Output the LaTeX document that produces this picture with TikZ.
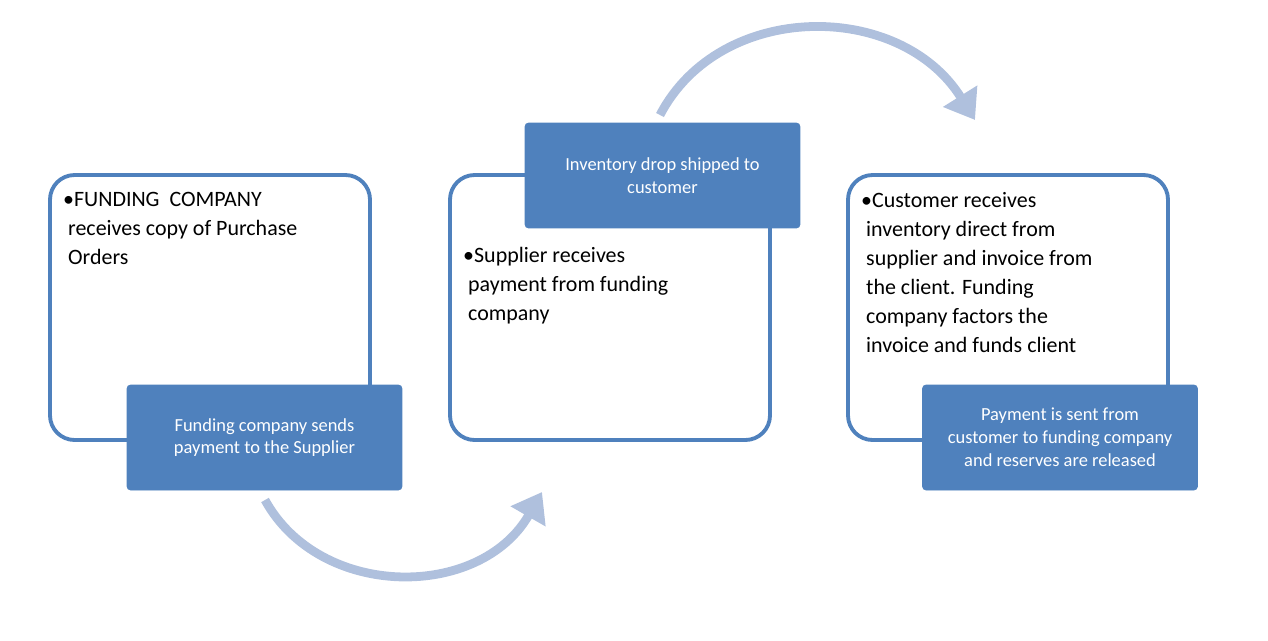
\documentclass[tikz,border=0pt]{standalone}
\usepackage{fontspec}
\setmainfont{Carlito}
\usetikzlibrary{arrows.meta}
\definecolor{bb}{HTML}{4F81BD}
\definecolor{la}{HTML}{AFC0DD}
\begin{document}
\begin{tikzpicture}[x=0.02cm,y=-0.02cm,
 big/.style={draw=bb,line width=2.2pt,rounded corners=14pt,fill=white},
 blue/.style={fill=bb,draw=bb,rounded corners=2pt,text=white,align=center,font=\fontsize{10.5}{13}\selectfont,minimum width=5.5cm,minimum height=2.1cm},
 txt/.style={anchor=north west,align=left,font=\fontsize{12.5}{16.5}\selectfont},
 arc/.style={la,line width=5pt,-{Triangle[length=16pt,width=22pt]}}]
\useasboundingbox (0,0) rectangle (1268,640);
\draw[big] (50,175) rectangle (370,440);
\draw[big] (450,175) rectangle (770,440);
\draw[big] (848,175) rectangle (1168,440);
\node[txt] (t1) at (57,186) {\textbullet FUNDING\ \ COMPANY\\ \ receives copy of Purchase\\ \ Orders};
\node[txt] (t2) at (457,241) {\textbullet Supplier receives\\ \ payment from funding\\ \ company};
\node[txt] (t3) at (855,186) {\textbullet Customer receives\\ \ inventory direct from\\ \ supplier and invoice from\\ \ the client. Funding\\ \ company factors the\\ \ invoice and funds client};
\node[blue] (b1) at (264.5,437.5) {Funding company sends\\payment to the Supplier};
\node[blue] (b2) at (662.5,175.5) {Inventory drop shipped to\\customer};
\node[blue] (b3) at (1060,437.5) {Payment is sent from\\customer to funding company\\and reserves are released};
\coordinate (a1) at (265,500); \coordinate (a2) at (542,492);
\coordinate (c1) at (660,115); \coordinate (c2) at (975,120);
\draw[arc] (a1) .. controls (320,600) and (480,600) .. (a2);
\draw[arc] (c1) .. controls (720,0) and (900,0) .. (c2);
\end{tikzpicture}
\end{document}
